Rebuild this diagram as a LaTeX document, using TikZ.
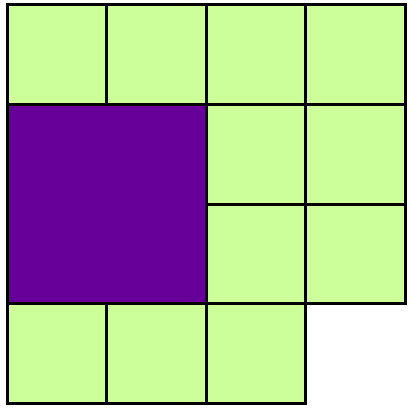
\documentclass[tikz,border=0pt]{standalone}
\definecolor{cellgreen}{HTML}{CCFF99}
\definecolor{cellpurple}{HTML}{660099}
\tikzset{
  cell/.style={fill=cellgreen,draw=black,line width=3pt},
  big/.style={fill=cellpurple,draw=black,line width=3pt}
}
\begin{document}
\begin{tikzpicture}[x=1pt,y=-1pt]
\useasboundingbox[fill=white] (0,0) rectangle (410,412);
\def\cs{99.5}
\def\ox{7}
\def\oy{5}
% top row
\foreach \c in {0,1,2,3} {
  \draw[cell] ({\ox+\c*\cs},{\oy}) rectangle ++(\cs,\cs);
}
% big purple
\draw[big] ({\ox},{\oy+\cs}) rectangle ++({2*\cs},{2*\cs});
% middle small
\foreach \r in {1,2} {
  \foreach \c in {2,3} {
    \draw[cell] ({\ox+\c*\cs},{\oy+\r*\cs}) rectangle ++(\cs,\cs);
  }
}
% bottom row
\foreach \c in {0,1,2} {
  \draw[cell] ({\ox+\c*\cs},{\oy+3*\cs}) rectangle ++(\cs,\cs);
}
\end{tikzpicture}
\end{document}
